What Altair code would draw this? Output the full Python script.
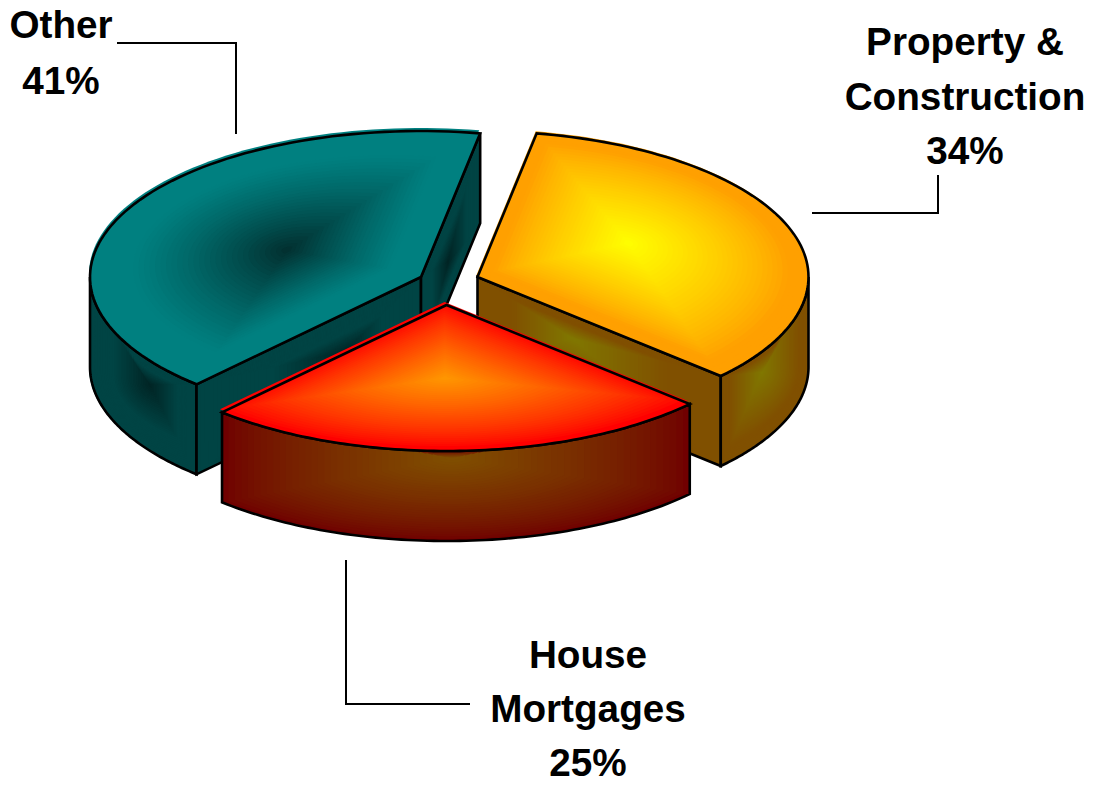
import math
import altair as alt

# --- chart values ---
CATEGORIES = ["Property & Construction", "House Mortgages", "Other"]
SHARES = [34, 25, 41]
LABEL_LINES = [["Property &", "Construction", "34%"], ["House", "Mortgages", "25%"], ["Other", "41%"]]
START_ANGLE = 10.3

# --- layout (reference pixels) ---
RX, RY, DEPTH = 331, 146, 90
CENTRES = {"Property & Construction": (477.5, 277), "House Mortgages": (446.5, 305), "Other": (421, 277)}
LABEL_ANCHORS = {"Property & Construction": (965, [42.5, 97.5, 151.5]),
                 "House Mortgages": (588, [655.5, 709.5, 764]),
                 "Other": (61, [26, 81.5])}
LEADERS = [[(117, 43), (236, 43), (236, 134)],
           [(812, 213), (938, 213), (938, 175)],
           [(346, 560), (346, 704), (470, 704)]]

features = []


def hex_rgb(h):
    return [int(h[i:i + 2], 16) for i in (1, 3, 5)]


def mix(a, b, f):
    ca, cb = hex_rgb(a), hex_rgb(b)
    return "#%02x%02x%02x" % tuple(round(x + (y - x) * f) for x, y in zip(ca, cb))


def add(poly, fill="transparent", stroke="transparent", sw=0):
    ring = [list(p) for p in poly]
    ring = ring + [ring[0]]
    features.append({"type": "Feature", "properties": {"f": fill, "s": stroke, "w": sw},
                     "geometry": {"type": "Polygon", "coordinates": [ring]}})


def shaded(poly, edge, centre, focus, t0=1.0, power=1.0, shift=(0, 0), steps=36):
    """Path gradient: nested copies of the shape shrinking to the focus."""
    add(poly, fill=edge)
    for i in range(steps + 1):
        t = 1 - i / steps
        f = 0 if t >= t0 else (1 - t / t0) ** power
        pts = [(focus[0] + t * (x + shift[0] - focus[0]), focus[1] + t * (y + shift[1] - focus[1]))
               for x, y in poly]
        add(pts, fill=mix(edge, centre, f))


def outline(poly):
    add(poly, stroke="#000000", sw=2.6)


def pt(c, a):
    r = math.radians(a)
    return (c[0] + RX * math.sin(r), c[1] - RY * math.cos(r))


def arc(c, a0, a1, n=80):
    return [pt(c, a0 + (a1 - a0) * i / n) for i in range(n + 1)]


def down(points):
    return [(x, y + DEPTH) for x, y in points]


def wall(top):
    return top + down(top)[::-1]


angles = {}
a = START_ANGLE
for name, share in zip(CATEGORIES, SHARES):
    angles[name] = (a, a + share * 3.6)
    a += share * 3.6

# Other
c = CENTRES["Other"]
a0, a1 = angles["Other"]
w = wall(arc(c, a0, 270))
shaded(w, "#004444", "#012424", (150, 385), t0=0.62, shift=(-1, 0))
outline(w)
w = wall([pt(c, a0), c])
shaded(w, "#004444", "#012424", (345, 352), t0=0.5)
outline(w)
w = wall([c, pt(c, a1)])
shaded(w, "#004444", "#012424", (448, 262), t0=0.6)
outline(w)
top = [c] + arc(c, a0, a1)
shaded(top, "#008080", "#022e2e", (287, 250), t0=0.8, power=1.2, shift=(-1, -3))
outline(top)

# Property & Construction
c = CENTRES["Property & Construction"]
a0, a1 = angles["Property & Construction"]
w = wall([c, pt(c, a1)])
shaded(w, "#805000", "#807800", (572, 338), t0=0.65)
outline(w)
w = wall(arc(c, 90, a1))
shaded(w, "#805000", "#807800", (762, 372), t0=0.8)
outline(w)
top = [c] + arc(c, a0, a1)
shaded(top, "#ffa000", "#ffff00", (628, 243), t0=0.9, power=0.85, shift=(-1, -2))
outline(top)

# House Mortgages
c = CENTRES["House Mortgages"]
a0, a1 = angles["House Mortgages"]
w = wall(arc(c, a0, a1))
shaded(w, "#700000", "#805000", (452, 458), t0=1.0, power=0.75)
outline(w)
top = [c] + arc(c, a0, a1)
shaded(top, "#ff0000", "#ff9800", (445, 378), t0=1.0, power=0.8, shift=(-2, -3))
outline(top)

# Leaders
leader_features = [{"type": "Feature", "properties": {},
                    "geometry": {"type": "LineString", "coordinates": [list(p) for p in line]}}
                   for line in LEADERS]

text_rows = []
for name, lines in zip(CATEGORIES, LABEL_LINES):
    x, ys = LABEL_ANCHORS[name]
    for line, y in zip(lines, ys):
        text_rows.append({"x": x, "y": y, "t": line})

proj = dict(type="identity", scale=1, translate=[-8, -8])

pie = alt.Chart(alt.Data(values=features)).mark_geoshape().encode(
    fill=alt.Fill("properties.f:N", scale=None),
    stroke=alt.Stroke("properties.s:N", scale=None),
    strokeWidth=alt.StrokeWidth("properties.w:Q", scale=None),
).project(**proj)

leaders = alt.Chart(alt.Data(values=leader_features)).mark_geoshape(
    filled=False, stroke="#000000", strokeWidth=2
).project(**proj)

labels = alt.Chart(alt.Data(values=text_rows)).mark_text(
    font="Liberation Sans", fontWeight="bold", fontSize=38.7, color="#000000",
    align="center", baseline="middle"
).encode(
    x=alt.X("x:Q", scale=alt.Scale(domain=[8, 1087]), axis=None),
    y=alt.Y("y:Q", scale=alt.Scale(domain=[778, 8]), axis=None),
    text="t:N",
)

chart = alt.layer(pie, leaders, labels).properties(
    width=1079, height=770, padding=0, autosize=alt.AutoSizeParams(type="none"),
    background="#ffffff",
).configure_view(stroke=None)

chart.save("out.html", embed_options={"renderer": "svg", "actions": False})
